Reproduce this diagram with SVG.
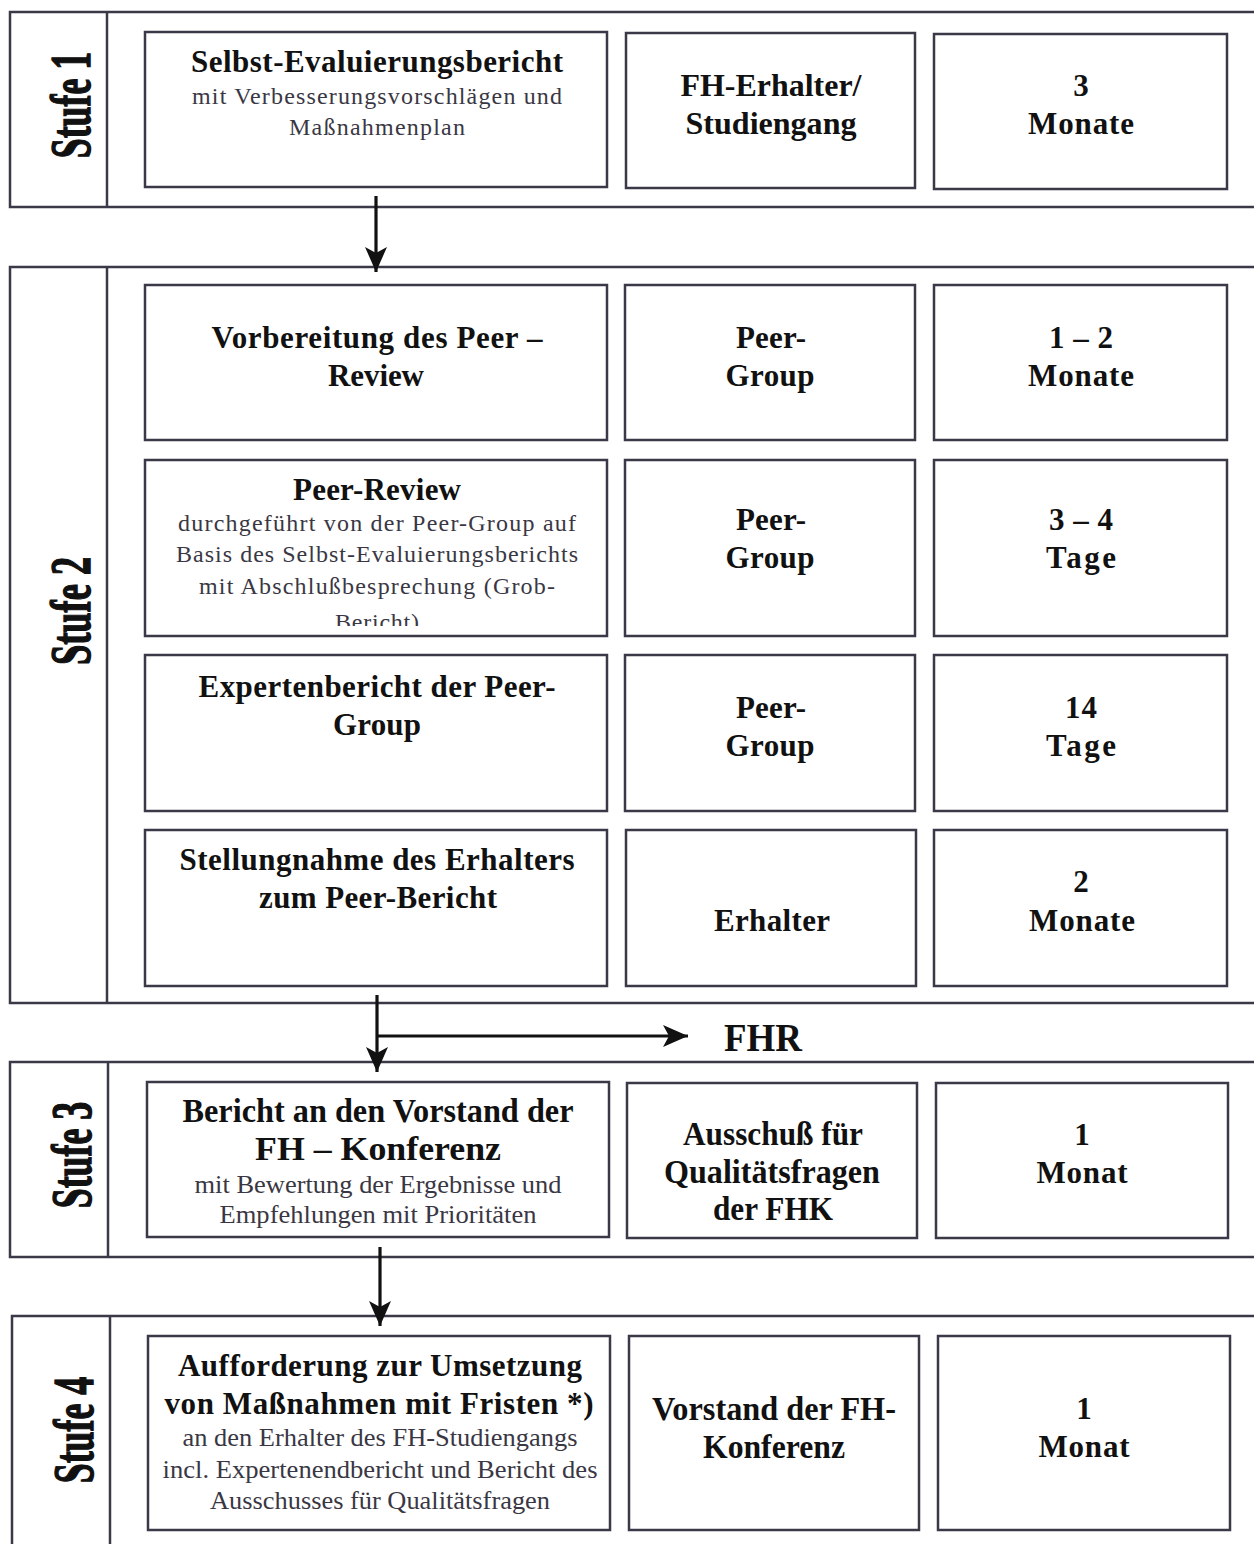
<svg xmlns="http://www.w3.org/2000/svg" width="1254" height="1544" viewBox="0 0 1254 1544">
<style>
.frame{fill:none;stroke:#3b3947;stroke-width:2.5}
.box{fill:#fff;stroke:#3b3947;stroke-width:2.5}
.b{font-family:"Liberation Serif","Times New Roman",serif;font-weight:bold;font-size:31px;fill:#111;text-anchor:middle}
.bc{font-family:"Liberation Serif","Times New Roman",serif;font-weight:bold;font-size:33px;fill:#111;text-anchor:middle}
.r{font-family:"Liberation Serif","Times New Roman",serif;font-size:24px;fill:#3a3744;text-anchor:middle}
.rc{font-family:"Liberation Serif","Times New Roman",serif;font-size:26px;fill:#3a3744;text-anchor:middle}
.st{font-family:"Liberation Serif","Times New Roman",serif;font-weight:bold;font-size:56px;fill:#111;stroke:#111;stroke-width:1.4;text-anchor:middle}
.fhr{font-family:"Liberation Serif","Times New Roman",serif;font-weight:bold;font-size:40px;fill:#111}
.conn{fill:none;stroke:#111;stroke-width:3.2}
</style>
<defs>
<marker id="ah" markerUnits="userSpaceOnUse" markerWidth="26" markerHeight="24" viewBox="0 0 26 24" refX="25" refY="12" orient="auto">
<path d="M0,1 L25,12 L0,23 L6,12 z" fill="#111"/>
</marker>
<clipPath id="clipPR"><rect x="146" y="461" width="460" height="165"/></clipPath>
</defs>
<rect width="1254" height="1544" fill="#fff"/>

<g id="stage1">
<rect class="frame" x="10" y="12" width="1260" height="195"/>
<line class="frame" x1="107" y1="12" x2="107" y2="207"/>
<text class="st" transform="translate(90,105) rotate(-90) scale(0.64,1)">Stufe 1</text>
</g>
<g id="stage2">
<rect class="frame" x="10" y="267" width="1260" height="736"/>
<line class="frame" x1="107" y1="267" x2="107" y2="1003"/>
<text class="st" transform="translate(90,611) rotate(-90) scale(0.65,1)">Stufe 2</text>
</g>
<g id="stage3">
<rect class="frame" x="10" y="1062" width="1260" height="195"/>
<line class="frame" x1="108" y1="1062" x2="108" y2="1257"/>
<text class="st" transform="translate(91,1155) rotate(-90) scale(0.64,1)">Stufe 3</text>
</g>
<g id="stage4">
<rect class="frame" x="12" y="1316" width="1260" height="260"/>
<line class="frame" x1="110" y1="1316" x2="110" y2="1544"/>
<text class="st" transform="translate(93,1430) rotate(-90) scale(0.64,1)">Stufe 4</text>
</g>

<g id="s1a"><rect class="box" x="145" y="32" width="462" height="155"/>
<text class="b" x="377" y="72" textLength="372" lengthAdjust="spacing">Selbst-Evaluierungsbericht</text>
<text class="r" x="377" y="104" textLength="370" lengthAdjust="spacing">mit Verbesserungsvorschlägen und</text>
<text class="r" x="377" y="135" textLength="176" lengthAdjust="spacing">Maßnahmenplan</text></g>
<g id="s1b"><rect class="box" x="626" y="33" width="289" height="155"/>
<text class="b" x="771" y="96" textLength="181" lengthAdjust="spacingAndGlyphs">FH-Erhalter/</text>
<text class="b" x="771" y="134" textLength="171" lengthAdjust="spacingAndGlyphs">Studiengang</text></g>
<g id="s1c"><rect class="box" x="934" y="34" width="293" height="155"/>
<text class="b" x="1081" y="96">3</text>
<text class="b" x="1081" y="134" textLength="106" lengthAdjust="spacing">Monate</text></g>

<g id="s2r1a"><rect class="box" x="145" y="285" width="462" height="155"/>
<text class="b" x="377" y="348" textLength="331" lengthAdjust="spacing">Vorbereitung des Peer –</text>
<text class="b" x="376" y="386" textLength="96" lengthAdjust="spacing">Review</text></g>
<g id="s2r1b"><rect class="box" x="625" y="285" width="290" height="155"/>
<text class="b" x="771" y="348" textLength="70" lengthAdjust="spacing">Peer-</text>
<text class="b" x="770" y="386" textLength="89" lengthAdjust="spacing">Group</text></g>
<g id="s2r1c"><rect class="box" x="934" y="285" width="293" height="155"/>
<text class="b" x="1081" y="348" textLength="64" lengthAdjust="spacing">1 – 2</text>
<text class="b" x="1081" y="386" textLength="106" lengthAdjust="spacing">Monate</text></g>

<g id="s2r2a"><rect class="box" x="145" y="460" width="462" height="176"/>
<text class="b" x="377" y="500" textLength="168" lengthAdjust="spacing">Peer-Review</text>
<text class="r" x="377" y="531" textLength="398" lengthAdjust="spacing">durchgeführt von der Peer-Group auf</text>
<text class="r" x="377" y="562" textLength="402" lengthAdjust="spacing">Basis des Selbst-Evaluierungsberichts</text>
<text class="r" x="377" y="594" textLength="356" lengthAdjust="spacing">mit Abschlußbesprechung (Grob-</text>
<text class="r" x="377" y="630" textLength="84" lengthAdjust="spacing" clip-path="url(#clipPR)">Bericht)</text></g>
<g id="s2r2b"><rect class="box" x="625" y="460" width="290" height="176"/>
<text class="b" x="771" y="530" textLength="70" lengthAdjust="spacing">Peer-</text>
<text class="b" x="770" y="568" textLength="89" lengthAdjust="spacing">Group</text></g>
<g id="s2r2c"><rect class="box" x="934" y="460" width="293" height="176"/>
<text class="b" x="1081" y="530" textLength="64" lengthAdjust="spacing">3 – 4</text>
<text class="b" x="1081" y="568" textLength="70" lengthAdjust="spacing">Tage</text></g>

<g id="s2r3a"><rect class="box" x="145" y="655" width="462" height="156"/>
<text class="b" x="377" y="697" textLength="357" lengthAdjust="spacing">Expertenbericht der Peer-</text>
<text class="b" x="377" y="735" textLength="88" lengthAdjust="spacing">Group</text></g>
<g id="s2r3b"><rect class="box" x="625" y="655" width="290" height="156"/>
<text class="b" x="771" y="718" textLength="70" lengthAdjust="spacing">Peer-</text>
<text class="b" x="770" y="756" textLength="89" lengthAdjust="spacing">Group</text></g>
<g id="s2r3c"><rect class="box" x="934" y="655" width="293" height="156"/>
<text class="b" x="1081" y="718" textLength="32" lengthAdjust="spacing">14</text>
<text class="b" x="1081" y="756" textLength="70" lengthAdjust="spacing">Tage</text></g>

<g id="s2r4a"><rect class="box" x="145" y="830" width="462" height="156"/>
<text class="b" x="377" y="870" textLength="395" lengthAdjust="spacing">Stellungnahme des Erhalters</text>
<text class="b" x="378" y="908" textLength="238" lengthAdjust="spacing">zum Peer-Bericht</text></g>
<g id="s2r4b"><rect class="box" x="626" y="830" width="290" height="156"/>
<text class="b" x="772" y="931" textLength="116" lengthAdjust="spacing">Erhalter</text></g>
<g id="s2r4c"><rect class="box" x="934" y="830" width="293" height="156"/>
<text class="b" x="1081" y="892">2</text>
<text class="b" x="1082" y="931" textLength="106" lengthAdjust="spacing">Monate</text></g>

<g id="s3a"><rect class="box" x="147" y="1082" width="462" height="155"/>
<text class="bc" x="378" y="1122" textLength="391" lengthAdjust="spacingAndGlyphs">Bericht an den Vorstand der</text>
<text class="bc" x="378" y="1160" textLength="246" lengthAdjust="spacingAndGlyphs">FH – Konferenz</text>
<text class="rc" x="378" y="1193" textLength="367" lengthAdjust="spacingAndGlyphs">mit Bewertung der Ergebnisse und</text>
<text class="rc" x="378" y="1223" textLength="317" lengthAdjust="spacingAndGlyphs">Empfehlungen mit Prioritäten</text></g>
<g id="s3b"><rect class="box" x="627" y="1083" width="290" height="155"/>
<text class="bc" x="773" y="1145" textLength="180" lengthAdjust="spacingAndGlyphs">Ausschuß für</text>
<text class="bc" x="772" y="1183" textLength="216" lengthAdjust="spacingAndGlyphs">Qualitätsfragen</text>
<text class="bc" x="773" y="1220" textLength="120" lengthAdjust="spacingAndGlyphs">der FHK</text></g>
<g id="s3c"><rect class="box" x="936" y="1083" width="292" height="155"/>
<text class="b" x="1082" y="1145">1</text>
<text class="b" x="1082" y="1183" textLength="91" lengthAdjust="spacing">Monat</text></g>

<g id="s4a"><rect class="box" x="148" y="1336" width="462" height="194"/>
<text class="b" x="380" y="1376" textLength="404" lengthAdjust="spacing">Aufforderung zur Umsetzung</text>
<text class="b" x="379" y="1414" textLength="429" lengthAdjust="spacing">von Maßnahmen mit Fristen *)</text>
<text class="rc" x="380" y="1446" textLength="395" lengthAdjust="spacingAndGlyphs">an den Erhalter des FH-Studiengangs</text>
<text class="rc" x="380" y="1478" textLength="435" lengthAdjust="spacingAndGlyphs">incl. Expertenendbericht und Bericht des</text>
<text class="rc" x="380" y="1509" textLength="340" lengthAdjust="spacingAndGlyphs">Ausschusses für Qualitätsfragen</text></g>
<g id="s4b"><rect class="box" x="629" y="1336" width="290" height="194"/>
<text class="bc" x="774" y="1420" textLength="244" lengthAdjust="spacingAndGlyphs">Vorstand der FH-</text>
<text class="bc" x="774" y="1458" textLength="142" lengthAdjust="spacingAndGlyphs">Konferenz</text></g>
<g id="s4c"><rect class="box" x="938" y="1336" width="292" height="194"/>
<text class="b" x="1084" y="1419">1</text>
<text class="b" x="1084" y="1457" textLength="91" lengthAdjust="spacing">Monat</text></g>

<g id="connectors">
<line class="conn" x1="376" y1="196" x2="376" y2="272" marker-end="url(#ah)"/>
<line class="conn" x1="377" y1="995" x2="377" y2="1072" marker-end="url(#ah)"/>
<line class="conn" x1="377" y1="1036" x2="688" y2="1036" marker-end="url(#ah)"/>
<line class="conn" x1="380" y1="1247" x2="380" y2="1326" marker-end="url(#ah)"/>
</g>
<text id="fhr" class="fhr" x="724" y="1051" textLength="78" lengthAdjust="spacingAndGlyphs">FHR</text>
</svg>
